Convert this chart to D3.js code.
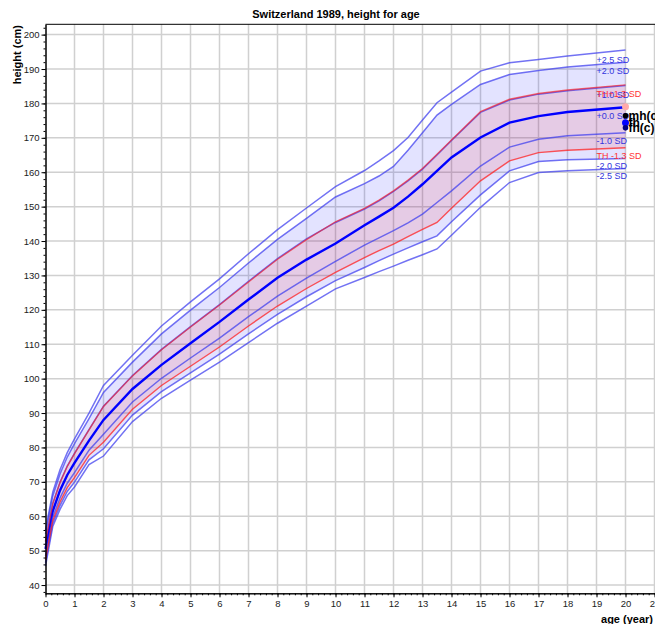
<!DOCTYPE html>
<html>
<head>
<meta charset="utf-8">
<script src="https://cdn.jsdelivr.net/npm/d3@7"></script>
<style>
  body { margin: 0; background: #fff; }
  svg { display: block; font-family: "Liberation Sans", Arial, sans-serif; }
</style>
</head>
<body>
<div id="my_dataviz"></div>
<script>
// ages (years) where the reference curves have points
var ages = [0, 0.25, 0.5, 0.75, 1, 1.5, 2, 3, 4, 5, 6, 7, 8, 9, 10, 11, 11.5, 12, 12.5, 13, 13.5, 14, 15, 16, 17, 18, 20];

// height (cm) per SD line
var sdP25 = [56.0, 67.0, 73.5, 78.5, 82.5, 90.0, 98.0, 106.8, 115.3, 122.3, 129.0, 136.3, 143.3, 149.6, 155.8, 160.5, 163.3, 166.3, 170.1, 175.2, 180.2, 183.3, 189.4, 191.8, 192.8, 193.8, 195.5];
var sdP20 = [54.9, 65.9, 72.3, 77.2, 81.1, 88.4, 96.0, 104.8, 113.0, 119.9, 126.5, 133.6, 140.5, 146.6, 152.8, 156.7, 158.9, 161.7, 166.4, 171.5, 176.6, 179.7, 185.5, 188.4, 189.6, 190.6, 192.0];
var sdP10 = [52.7, 63.7, 69.9, 74.6, 78.3, 85.2, 92.0, 100.9, 108.5, 115.1, 121.5, 128.3, 134.9, 140.6, 145.4, 149.3, 151.7, 154.4, 157.5, 160.9, 165.0, 169.2, 177.4, 181.0, 182.7, 183.7, 185.2];
var median = [50.5, 61.5, 67.5, 72.0, 75.5, 82.0, 88.0, 97.0, 104.0, 110.3, 116.5, 123.0, 129.3, 134.6, 139.3, 144.6, 147.1, 149.7, 152.9, 156.5, 160.4, 164.3, 170.1, 174.4, 176.3, 177.5, 178.9];
var sdM10 = [48.5, 59.7, 65.3, 69.6, 72.7, 79.2, 83.8, 93.2, 100.1, 106.0, 111.8, 118.0, 124.0, 129.2, 134.1, 138.8, 140.9, 143.0, 145.3, 147.8, 151.2, 154.6, 161.8, 167.3, 169.6, 170.6, 171.5];
var sdM20 = [46.5, 57.9, 63.1, 67.2, 69.9, 76.4, 79.6, 89.4, 96.2, 101.7, 107.1, 113.0, 118.7, 123.8, 128.5, 132.3, 134.3, 136.2, 138.0, 139.8, 141.5, 145.6, 153.4, 160.4, 163.1, 163.6, 164.0];
var sdM25 = [45.5, 57.0, 62.0, 66.0, 68.5, 75.0, 77.5, 87.5, 94.3, 99.6, 104.8, 110.5, 116.1, 121.1, 126.1, 129.4, 131.1, 132.7, 134.4, 136.0, 137.7, 141.7, 149.8, 157.0, 159.9, 160.4, 161.1];

// target height range
var thUpper = [52.6, 63.6, 69.8, 74.5, 78.2, 85.1, 91.9, 100.8, 108.4, 115.0, 121.4, 128.1, 134.7, 140.4, 145.6, 149.5, 151.9, 154.6, 157.7, 161.1, 165.2, 169.4, 177.6, 181.2, 182.9, 183.9, 185.4];
var thLower = [47.4, 58.7, 64.1, 68.3, 71.2, 77.7, 81.5, 91.1, 98.0, 103.6, 109.2, 115.3, 121.1, 126.2, 130.9, 135.2, 137.2, 139.1, 141.3, 143.4, 145.4, 149.5, 157.5, 163.3, 165.7, 166.4, 167.1];

// parental heights at age 20
var parentNames = ["mh(c)", "fh", "fh(c)"];
var parentHeights = [176.4, 174.4, 172.9];
var targetHeight = 179.05;

var lineLabels = ["+2.5 SD", "+2.0 SD", "+1.0 SD", "+0.0 SD", "-1.0 SD", "-2.0 SD", "-2.5 SD", "TH+1.3 SD", "TH -1.3 SD"];

var width = 655, height = 624;

var svg = d3.select("#my_dataviz")
  .append("svg")
    .attr("width", width)
    .attr("height", height);

var x = d3.scaleLinear().domain([0, 21.5]).range([45.5, 669]);
var y = d3.scaleLinear().domain([37.6, 203]).range([593.3, 24.3]);

// grid
svg.append("g").selectAll("line")
  .data(d3.range(1, 22)).enter().append("line")
    .attr("x1", function(d) { return x(d); })
    .attr("x2", function(d) { return x(d); })
    .attr("y1", y(203)).attr("y2", y(37.6))
    .attr("stroke", "#d0d0d0").attr("stroke-width", 1.5);
svg.append("g").selectAll("line")
  .data(d3.range(40, 201, 10)).enter().append("line")
    .attr("x1", x(0)).attr("x2", width)
    .attr("y1", function(d) { return y(d); })
    .attr("y2", function(d) { return y(d); })
    .attr("stroke", "#d0d0d0").attr("stroke-width", 1.5);

var idx = d3.range(ages.length);

function band(lo, hi) {
  return d3.area()
    .x(function(i) { return x(ages[i]); })
    .y0(function(i) { return y(lo[i]); })
    .y1(function(i) { return y(hi[i]); })(idx);
}

// +-2 SD band and target height band
svg.append("path").attr("d", band(sdM20, sdP20))
  .attr("fill", "rgb(0,0,255)").attr("fill-opacity", 0.11);
svg.append("path").attr("d", band(thLower, thUpper))
  .attr("fill", "rgb(255,0,0)").attr("fill-opacity", 0.1);

var series = [
  { vals: sdP25, color: "#3c3cee", w: 1.5, op: 0.72 },
  { vals: sdP20, color: "#3c3cee", w: 1.5, op: 0.72 },
  { vals: sdP10, color: "#3c3cee", w: 1.5, op: 0.72 },
  { vals: median, color: "#0000ff", w: 2.4, op: 1 },
  { vals: sdM10, color: "#3c3cee", w: 1.5, op: 0.72 },
  { vals: sdM20, color: "#3c3cee", w: 1.5, op: 0.72 },
  { vals: sdM25, color: "#3c3cee", w: 1.5, op: 0.72 },
  { vals: thUpper, color: "#ff2020", w: 1.4, op: 0.65 },
  { vals: thLower, color: "#ff2020", w: 1.4, op: 0.75 }
];

var line = d3.line()
  .x(function(i) { return x(ages[i]); });

series.forEach(function(s, k) {
  svg.append("path")
    .attr("d", line.y(function(i) { return y(s.vals[i]); })(idx))
    .attr("fill", "none")
    .attr("stroke", s.color)
    .attr("stroke-opacity", s.op)
    .attr("stroke-width", s.w);

  // label just below the line at age 19
  var n = s.vals.length;
  var v19 = (s.vals[n - 2] + s.vals[n - 1]) / 2;
  svg.append("text")
    .attr("x", x(19))
    .attr("y", y(v19) + 9.5)
    .attr("font-size", "9px")
    .attr("fill", k > 6 ? "#ff3333" : "#3333dd")
    .text(lineLabels[k]);
});

// axes
svg.append("g")
  .attr("transform", "translate(" + x(0) + ",0)")
  .call(d3.axisLeft(y).tickValues(d3.range(40, 201, 10)).tickSize(4).tickSizeOuter(0).tickPadding(2));
svg.append("g")
  .attr("transform", "translate(" + x(0) + ",0)")
  .call(d3.axisLeft(y).tickValues(d3.range(38, 203, 2)).tickSize(2).tickSizeOuter(0).tickFormat(""));
svg.append("g")
  .attr("transform", "translate(0," + y(37.6) + ")")
  .call(d3.axisBottom(x).tickValues(d3.range(0, 22)).tickSize(4).tickSizeOuter(0).tickPadding(3));
svg.append("g")
  .attr("transform", "translate(0," + y(37.6) + ")")
  .call(d3.axisBottom(x).tickValues(d3.range(0, 21.5, 0.2)).tickSize(2).tickSizeOuter(0).tickFormat(""));

svg.selectAll(".tick text")
  .attr("font-size", "9.5px")
  .attr("font-family", "Liberation Sans, Arial, sans-serif")
  .attr("fill", "#222");

// top border
svg.append("line")
  .attr("x1", x(0)).attr("x2", width)
  .attr("y1", y(203)).attr("y2", y(203))
  .attr("stroke", "#000");

// target height and parents
svg.append("circle")
  .attr("cx", x(20)).attr("cy", y(targetHeight)).attr("r", 3.5)
  .attr("fill", "#ffaaaa");
var parentColors = ["#000", "#0000ff", "#000080"];
parentHeights.forEach(function(h, i) {
  svg.append("circle")
    .attr("cx", x(20)).attr("cy", y(h)).attr("r", i == 1 ? 3.5 : 2.8)
    .attr("fill", parentColors[i]);
  svg.append("text")
    .attr("x", x(20) + 3)
    .attr("y", y(h) + 4.5)
    .attr("font-size", "12px").attr("font-weight", "bold")
    .attr("fill", "#000")
    .text(parentNames[i]);
});

// titles
svg.append("text")
  .attr("x", 336).attr("y", 18)
  .attr("text-anchor", "middle")
  .attr("font-size", "11px").attr("font-weight", "bold")
  .text("Switzerland 1989, height for age");
svg.append("text")
  .attr("transform", "translate(21,25) rotate(-90)")
  .attr("text-anchor", "end")
  .attr("font-size", "11px").attr("font-weight", "bold")
  .text("height (cm)");
svg.append("text")
  .attr("x", 653).attr("y", 623)
  .attr("text-anchor", "end")
  .attr("font-size", "11px").attr("font-weight", "bold")
  .text("age (year)");
</script>
</body>
</html>
